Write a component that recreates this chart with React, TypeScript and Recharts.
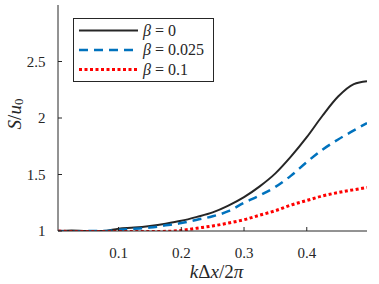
import { LineChart, Line, XAxis, YAxis, Legend } from 'recharts'

const kx = [0.004, 0.025, 0.05, 0.075, 0.1, 0.125, 0.15, 0.175, 0.2, 0.225, 0.25, 0.275, 0.3, 0.325, 0.35, 0.375, 0.4, 0.425, 0.45, 0.475, 0.496]
const beta0 = [1.0, 1.005, 1.0, 1.0, 1.02, 1.03, 1.045, 1.065, 1.09, 1.125, 1.165, 1.225, 1.3, 1.395, 1.51, 1.66, 1.83, 2.02, 2.19, 2.3, 2.325]
const beta025 = [1.0, 0.995, 1.0, 1.0, 1.01, 1.02, 1.03, 1.05, 1.07, 1.1, 1.13, 1.175, 1.25, 1.315, 1.39, 1.49, 1.61, 1.72, 1.81, 1.89, 1.955]
const beta1 = [1.0, 0.995, 0.995, 0.995, 0.995, 0.995, 0.995, 0.997, 1.005, 1.025, 1.045, 1.07, 1.1, 1.14, 1.18, 1.23, 1.27, 1.31, 1.34, 1.365, 1.385]
const xTicks = [0.1, 0.2, 0.3, 0.4]
const yTicks = [1, 1.5, 2, 2.5]

const data = kx.map((x, i) => ({ x, b0: beta0[i], b1: beta025[i], b2: beta1[i] }))

const serif = '"Liberation Serif", "Times New Roman", serif'
const axisColor = '#262626'
const tickLen = 4

const series = [
  { key: 'b0', label: '0', color: '#262626', width: 2, dash: undefined },
  { key: 'b1', label: '0.025', color: '#0072BD', width: 2.5, dash: '9 6' },
  { key: 'b2', label: '0.1', color: '#FF0000', width: 3, dash: '3 2.5' },
]

function BottomTick({ x, y, payload }: any) {
  return (
    <g>
      <line x1={x} x2={x} y1={y} y2={y - tickLen} stroke={axisColor} />
      <text x={x} y={y + 27} textAnchor="middle" fontSize={15} fill={axisColor} style={{ fontFamily: serif }}>
        {payload.value}
      </text>
    </g>
  )
}

function TopTick({ x, y }: any) {
  return <line x1={x} x2={x} y1={y} y2={y + tickLen} stroke={axisColor} />
}

function LeftTick({ x, y, payload }: any) {
  return (
    <g>
      <line x1={x} x2={x + tickLen} y1={y} y2={y} stroke={axisColor} />
      <text x={x - 12.5} y={y + 5} textAnchor="end" fontSize={15} fill={axisColor} style={{ fontFamily: serif }}>
        {payload.value}
      </text>
    </g>
  )
}

function RightTick({ x, y }: any) {
  return <line x1={x} x2={x - tickLen} y1={y} y2={y} stroke={axisColor} />
}

function YLabel(props: any) {
  const vb = props.viewBox || {}
  const cx = 14
  const cy = vb.y + vb.height / 2 - 4
  return (
    <text x={cx} y={cy} transform={`rotate(-90 ${cx} ${cy})`} textAnchor="middle" style={{ fontFamily: serif }} fontSize={19} fill={axisColor} dominantBaseline="central">
      <tspan fontStyle="italic">S</tspan>
      <tspan>/</tspan>
      <tspan fontStyle="italic">u</tspan>
      <tspan fontSize={13} dy={4}>0</tspan>
    </text>
  )
}

function XLabel(props: any) {
  const vb = props.viewBox || {}
  return (
    <text x={vb.x + vb.width / 2 + 4} y={278} textAnchor="middle" style={{ fontFamily: serif }} fontSize={19} fill={axisColor}>
      <tspan fontStyle="italic">k</tspan>
      <tspan>Δ</tspan>
      <tspan fontStyle="italic">x</tspan>
      <tspan>/2</tspan>
      <tspan fontStyle="italic">π</tspan>
    </text>
  )
}

function LegendBox() {
  return (
    <svg width={141} height={64} style={{ display: 'block' }}>
      <rect x={0.5} y={0.5} width={140} height={63} fill="#fff" stroke={axisColor} strokeWidth={1} />
      {series.map((s, i) => {
        const y = 12.5 + i * 19.5
        return (
          <g key={s.key}>
            <line x1={6} x2={65} y1={y} y2={y} stroke={s.color} strokeWidth={s.width} strokeDasharray={s.dash} />
            <text x={70} y={y + 5} style={{ fontFamily: serif }} fontSize={16} fill={axisColor}>
              <tspan fontStyle="italic">β</tspan>
              <tspan> = {s.label}</tspan>
            </text>
          </g>
        )
      })}
    </svg>
  )
}

export default function App() {
  return (
    <div style={{ position: 'absolute', left: 0, top: 0, background: '#fff' }}>
      <LineChart width={379} height={284} data={data} margin={{ top: 5, right: 12, bottom: 0, left: 0 }}>
        <XAxis
          dataKey="x"
          type="number"
          domain={[0.0035, 0.496]}
          ticks={xTicks}
          allowDataOverflow
          height={53}
          stroke={axisColor}
          tickLine={false}
          tickSize={0}
          tickMargin={0}
          tick={<BottomTick />}
          label={<XLabel />}
        />
        <XAxis
          xAxisId="top"
          dataKey="x"
          type="number"
          orientation="top"
          domain={[0.0035, 0.496]}
          ticks={xTicks}
          allowDataOverflow
          height={0}
          stroke={axisColor}
          tickLine={false}
          tickSize={0}
          tickMargin={0}
          tick={<TopTick />}
        />
        <YAxis
          type="number"
          domain={[1, 3]}
          ticks={yTicks}
          allowDataOverflow
          width={58}
          stroke={axisColor}
          tickLine={false}
          tickSize={0}
          tickMargin={0}
          tick={<LeftTick />}
          label={<YLabel />}
        />
        <YAxis
          yAxisId="right"
          orientation="right"
          type="number"
          domain={[1, 3]}
          ticks={yTicks}
          allowDataOverflow
          width={0}
          stroke={axisColor}
          tickLine={false}
          tickSize={0}
          tickMargin={0}
          tick={<RightTick />}
        />
        <Legend content={<LegendBox />} layout="vertical" verticalAlign="middle" align="center" wrapperStyle={{ left: 73, top: 18, width: 141 }} />
        {series.map((s) => (
          <Line
            key={s.key}
            dataKey={s.key}
            type="monotone"
            stroke={s.color}
            strokeWidth={s.width}
            strokeDasharray={s.dash}
            dot={false}
            isAnimationActive={false}
          />
        ))}
      </LineChart>
    </div>
  )
}
